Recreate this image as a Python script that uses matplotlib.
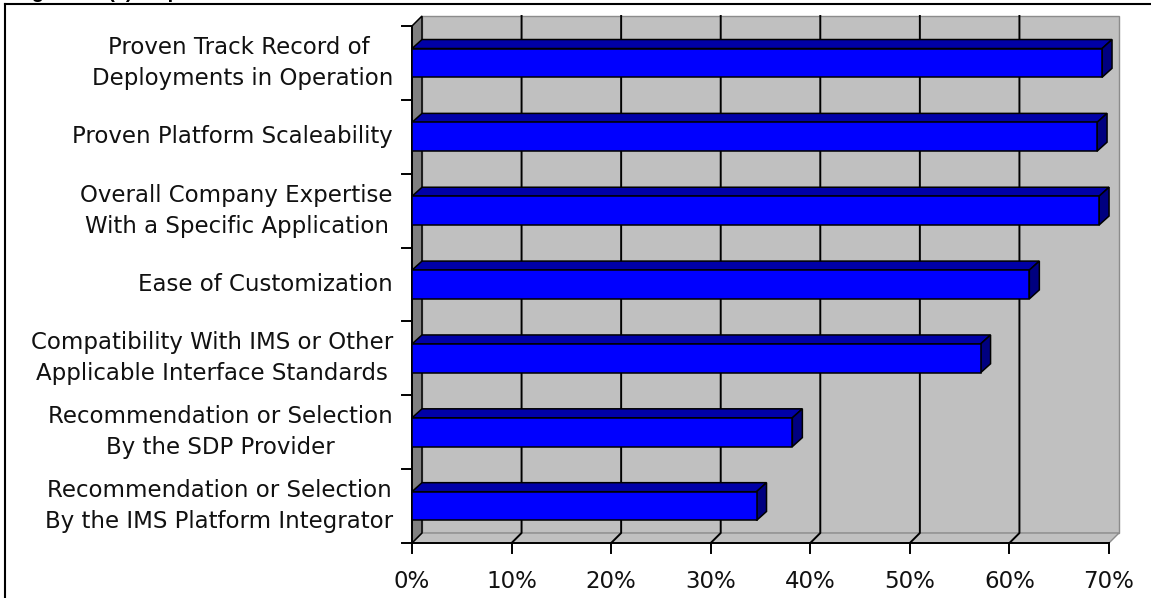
import matplotlib
matplotlib.use("Agg")
import matplotlib.pyplot as plt
from matplotlib.patches import Polygon, Rectangle
from matplotlib.lines import Line2D
import matplotlib.transforms as mtransforms

# ---- data -------------------------------------------------------------
categories = [
    "Proven Track Record of \nDeployments in Operation",
    "Proven Platform Scaleability",
    "Overall Company Expertise\nWith a Specific Application",
    "Ease of Customization",
    "Compatibility With IMS or Other\nApplicable Interface Standards",
    "Recommendation or Selection\nBy the SDP Provider",
    "Recommendation or Selection\nBy the IMS Platform Integrator",
]
values = [69.3, 68.8, 69.0, 62.0, 57.1, 38.2, 34.6]
x_ticks = [0, 10, 20, 30, 40, 50, 60, 70]
x_tick_labels = ["0%", "10%", "20%", "30%", "40%", "50%", "60%", "70%"]
title = "Figure 12 (1): Top Selection Criteria"

# ---- figure / axes ----------------------------------------------------
W, H, DPI = 1151, 598, 100
fig = plt.figure(figsize=(W / DPI, H / DPI), dpi=DPI)
fig.patch.set_facecolor("white")

AX_L, AX_R, AX_T, AX_B = 412, 1109, 26, 543      # front plane, in pixels
ax = fig.add_axes([AX_L / W, 1 - AX_B / H, (AX_R - AX_L) / W, (AX_B - AX_T) / H])
XMAX, NCAT = 70, len(categories)
ax.set_xlim(0, XMAX)
ax.set_ylim(0, NCAT)
ax.axis("off")

# pixel -> data unit conversions for the 3-D depth offsets
ux = XMAX / (AX_R - AX_L)
uy = NCAT / (AX_B - AX_T)
wall_dx, wall_dy = 10 * ux, 10 * uy
bar_dx, bar_dy = 10 * ux, 9 * uy
tick_len_x, tick_len_y = 10 * ux, 10 * uy

LW = 1.1
kw = dict(clip_on=False)

# back wall, floor, side wall
ax.add_patch(Rectangle((wall_dx, wall_dy), XMAX, NCAT, facecolor="#C0C0C0",
                       edgecolor="#8C8C8C", lw=1.0, zorder=1, **kw))
ax.add_patch(Polygon([(0, 0), (XMAX, 0), (XMAX + wall_dx, wall_dy), (wall_dx, wall_dy)],
                     closed=True, facecolor="#C0C0C0", edgecolor="#8C8C8C", lw=1.0,
                     zorder=1, **kw))
ax.add_patch(Polygon([(0, 0), (0, NCAT), (wall_dx, NCAT + wall_dy), (wall_dx, wall_dy)],
                     closed=True, facecolor="#808080", edgecolor="black", lw=LW,
                     zorder=2, **kw))

# gridlines on the back wall, running across the floor to the front edge
for xt in x_ticks[1:-1]:
    ax.add_line(Line2D([xt + wall_dx, xt + wall_dx, xt], [NCAT + wall_dy, wall_dy, 0],
                       color="black", lw=1.4, zorder=2, **kw))

# axes lines and ticks
ax.add_line(Line2D([0, 0], [0, NCAT], color="black", lw=1.4, zorder=3, **kw))
ax.add_line(Line2D([0, XMAX], [0, 0], color="black", lw=1.4, zorder=3, **kw))
for k in range(NCAT + 1):
    ax.add_line(Line2D([-tick_len_x, 0], [k, k], color="black", lw=1.4, zorder=3, **kw))
for xt in x_ticks:
    ax.add_line(Line2D([xt, xt], [0, -tick_len_y], color="black", lw=1.4, zorder=3, **kw))

# 3-D bars
BAR_H = 0.39
for i, v in enumerate(values):
    yc = NCAT - i - 0.5
    y0, y1 = yc - BAR_H / 2, yc + BAR_H / 2
    ax.add_patch(Polygon([(0, y1), (v, y1), (v + bar_dx, y1 + bar_dy), (bar_dx, y1 + bar_dy)],
                         closed=True, facecolor="#0000A8", edgecolor="black", lw=LW,
                         zorder=4, **kw))
    ax.add_patch(Polygon([(v, y0), (v, y1), (v + bar_dx, y1 + bar_dy), (v + bar_dx, y0 + bar_dy)],
                         closed=True, facecolor="#000080", edgecolor="black", lw=LW,
                         zorder=4, **kw))
    ax.add_patch(Rectangle((0, y0), v, BAR_H, facecolor="#0000FF", edgecolor="black",
                           lw=LW, zorder=5, **kw))

# category labels
FS = 16.5
lab_tr = mtransforms.blended_transform_factory(fig.transFigure, ax.transData)
for i, lab in enumerate(categories):
    yc = NCAT - i - 0.5
    ax.text(393 / W, yc, lab, transform=lab_tr, ha="right", va="center", ma="center",
            fontsize=FS, family="DejaVu Sans", color="#111111", linespacing=1.45)

# x tick labels
tick_tr = mtransforms.blended_transform_factory(ax.transData, fig.transFigure)
for xt, tl in zip(x_ticks, x_tick_labels):
    ax.text(xt, 1 - 582 / H, tl, transform=tick_tr, ha="center", va="center",
            fontsize=FS, family="DejaVu Sans", color="#111111")

# outer frame (left and top edges) and the title running off the top
fig.add_artist(Line2D([5 / W, 5 / W], [0, 1 - 4 / H], transform=fig.transFigure,
                      color="black", lw=1.5))
fig.add_artist(Line2D([5 / W, 1], [1 - 4 / H, 1 - 4 / H], transform=fig.transFigure,
                      color="black", lw=1.5))
fig.text(14 / W, 1 + 1.5 / H, title, fontsize=14.4, fontweight="bold",
         family="Liberation Sans", va="baseline", ha="left")

fig.savefig("out.png", dpi=DPI, facecolor="white")
